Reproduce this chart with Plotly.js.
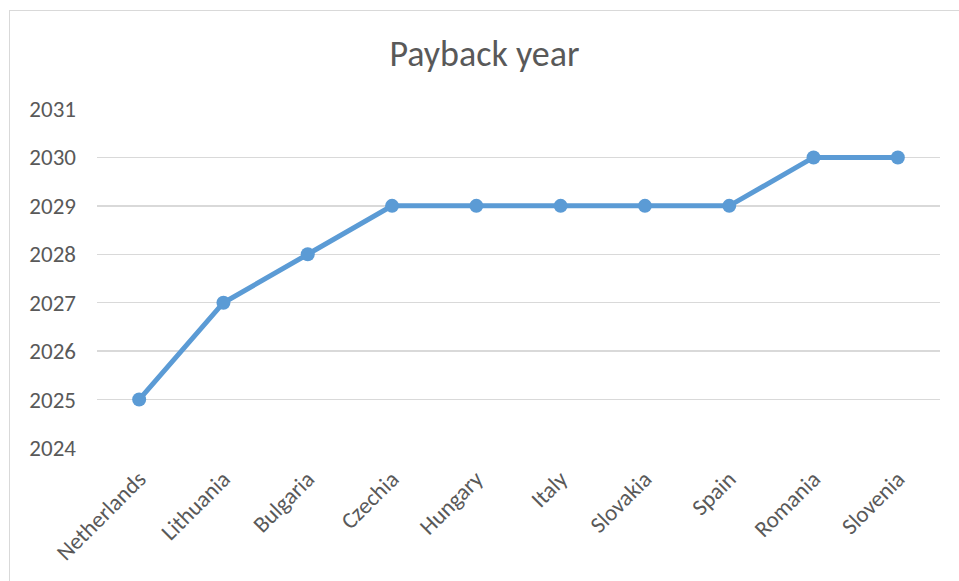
<!DOCTYPE html>
<html>
<head>
<meta charset="utf-8">
<script src="https://cdn.plot.ly/plotly-3.0.1.min.js"></script>
<style>
html,body{margin:0;padding:0;background:#fff;overflow:hidden;}
#frame{position:absolute;left:9px;top:10px;width:960px;height:580px;border:1px solid #d9d9d9;box-sizing:border-box;}
#chart{position:absolute;left:0;top:0;width:949px;height:570px;}
</style>
</head>
<body>
<div id="frame"><div id="chart"></div></div>
<script>
const countries = ["Netherlands","Lithuania","Bulgaria","Czechia","Hungary","Italy","Slovakia","Spain","Romania","Slovenia"];
const paybackYear = [2025,2027,2028,2029,2029,2029,2029,2029,2030,2030];
const yTicks = [2024,2025,2026,2027,2028,2029,2030,2031];

const fontFam = "Carlito, Calibri, 'Open Sans', sans-serif";
Plotly.newPlot('chart', [{
  x: countries,
  y: paybackYear,
  type: 'scatter',
  mode: 'lines+markers',
  line: {color: '#5b9bd5', width: 5},
  marker: {color: '#5b9bd5', size: 14},
  hoverinfo: 'x+y'
}], {
  width: 949, height: 570,
  margin: {l: 87, r: 19, t: 98, b: 133},
  paper_bgcolor: '#fff', plot_bgcolor: '#fff',
  showlegend: false,
  title: {text: 'Payback year', x: 0.5, xanchor: 'center', y: 1 - 42/570, yanchor: 'middle',
          font: {family: fontFam, size: 36, color: '#595959'}},
  font: {family: fontFam, color: '#595959'},
  xaxis: {
    type: 'category', range: [-0.5, 9.5], showgrid: false, zeroline: false,
    showline: false, ticks: '', tickangle: -45, ticklabelstandoff: 12,
    tickfont: {family: fontFam, size: 23, color: '#595959'}
  },
  yaxis: {
    range: [2024, 2031], tickvals: yTicks, ticktext: yTicks.map(String),
    showgrid: true, gridcolor: '#d9d9d9', gridwidth: 1.5, zeroline: false,
    showline: false, ticks: '', ticklabelstandoff: 20,
    tickfont: {family: fontFam, size: 23, color: '#595959'}
  }
}, {staticPlot: true});
</script>
</body>
</html>
